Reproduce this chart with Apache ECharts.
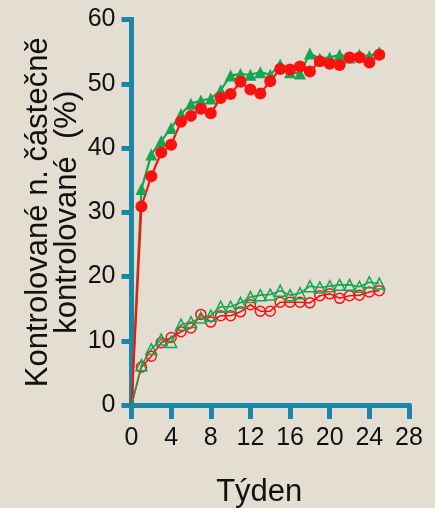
<!DOCTYPE html>
<html>
<head>
<meta charset="utf-8">
<script src="https://cdn.jsdelivr.net/npm/echarts@6/dist/echarts.min.js"></script>
<style>
html,body{margin:0;padding:0;background:#e4ddd2;}
#c{width:435px;height:508px;}
</style>
</head>
<body>
<div id="c"></div>
<script>
var weeks = [0,1,2,3,4,5,6,7,8,9,10,11,12,13,14,15,16,17,18,19,20,21,22,23,24,25];
var xTicks = [0,4,8,12,16,20,24,28];
var yTicks = [0,10,20,30,40,50,60];
var topGreen = [0,33.6,39.0,41.1,43.1,45.3,46.9,47.4,47.7,49.0,51.3,51.5,51.4,51.8,51.4,53.0,51.8,51.6,54.7,53.9,54.1,54.5,54.1,54.5,54.3,54.9];
var topRed = [0,30.9,35.6,39.3,40.5,44.1,45.0,46.1,45.4,47.8,48.4,50.3,49.1,48.5,50.4,52.3,52.2,52.7,51.9,53.5,53.1,52.9,54.1,54.1,53.3,54.5];
var bottomRed = [0,5.9,7.6,9.7,10.5,11.4,12.0,14.1,12.9,13.9,13.9,14.5,15.6,14.6,14.6,16.0,16.0,16.0,15.9,17.0,17.3,16.6,17.0,17.1,17.6,17.8];
var bottomGreen = [0,6.2,8.7,10.2,9.8,12.5,12.9,13.6,13.9,15.3,15.3,15.9,16.8,17.1,17.2,17.8,17.1,17.4,18.5,18.3,18.5,18.7,18.7,18.4,19.1,18.9];

var RED = '#ff1010', GREEN = '#16a652', AXIS = '#1a87a8', TXT = '#111';

function pts(vals){
  return weeks.map(function(w,i){
    var d = {value:[w, vals[i]]};
    if (i === 0) d.symbol = 'none';
    return d;
  });
}

var chart = echarts.init(document.getElementById('c'));
chart.setOption({
  backgroundColor: '#e4ddd2',
  animation: false,
  grid: {left: 131.5, right: 26, top: 19.5, bottom: 103, containLabel: false, outerBoundsMode: 'none'},
  xAxis: {
    type: 'value', min: 0, max: 28, interval: 4,
    name: 'Týden', nameLocation: 'middle', nameGap: 72, nameMoveOverlap: false,
    nameTextStyle: {fontSize: 31, color: TXT, fontFamily: 'Liberation Sans, Arial', padding: [0, 22, 0, 0]},
    axisLine: {show: true, lineStyle: {color: AXIS, width: 5, cap: 'square'}},
    axisTick: {show: true, length: 14, lineStyle: {color: AXIS, width: 5}},
    axisLabel: {fontSize: 25, color: TXT, margin: 21, fontFamily: 'Liberation Sans, Arial',
      formatter: function(v){ return xTicks.indexOf(v) >= 0 ? String(v) : ''; }},
    splitLine: {show: false}
  },
  yAxis: {
    type: 'value', min: 0, max: 60, interval: 10,
    name: 'Kontrolované n. částečně\nkontrolované  (%)', nameLocation: 'middle', nameGap: 50, nameMoveOverlap: false,
    nameTextStyle: {fontSize: 31, lineHeight: 29, color: TXT, fontFamily: 'Liberation Sans, Arial', align: 'center'},
    axisLine: {show: true, lineStyle: {color: AXIS, width: 5, cap: 'square'}},
    axisTick: {show: true, length: 10, lineStyle: {color: AXIS, width: 5}},
    axisLabel: {fontSize: 25, color: TXT, margin: 16, fontFamily: 'Liberation Sans, Arial',
      formatter: function(v){ return yTicks.indexOf(v) >= 0 ? String(v) : ''; }},
    splitLine: {show: false}
  },
  series: [
    {type: 'line', data: pts(topGreen), symbol: 'triangle', symbolSize: 12, showAllSymbol: true,
     lineStyle: {color: GREEN, width: 2.2}, itemStyle: {color: GREEN}},
    {type: 'line', data: pts(topRed), symbol: 'circle', symbolSize: 12, showAllSymbol: true,
     lineStyle: {color: RED, width: 2.2}, itemStyle: {color: RED}},
    {type: 'line', data: pts(bottomRed), symbol: 'circle', symbolSize: 10, showAllSymbol: true,
     lineStyle: {color: RED, width: 1.6}, itemStyle: {color: 'rgba(0,0,0,0)', borderColor: RED, borderWidth: 1.5}},
    {type: 'line', data: pts(bottomGreen), symbol: 'triangle', symbolSize: 11, showAllSymbol: true,
     lineStyle: {color: GREEN, width: 1.6}, itemStyle: {color: 'rgba(0,0,0,0)', borderColor: GREEN, borderWidth: 1.5}}
  ]
});
</script>
</body>
</html>
